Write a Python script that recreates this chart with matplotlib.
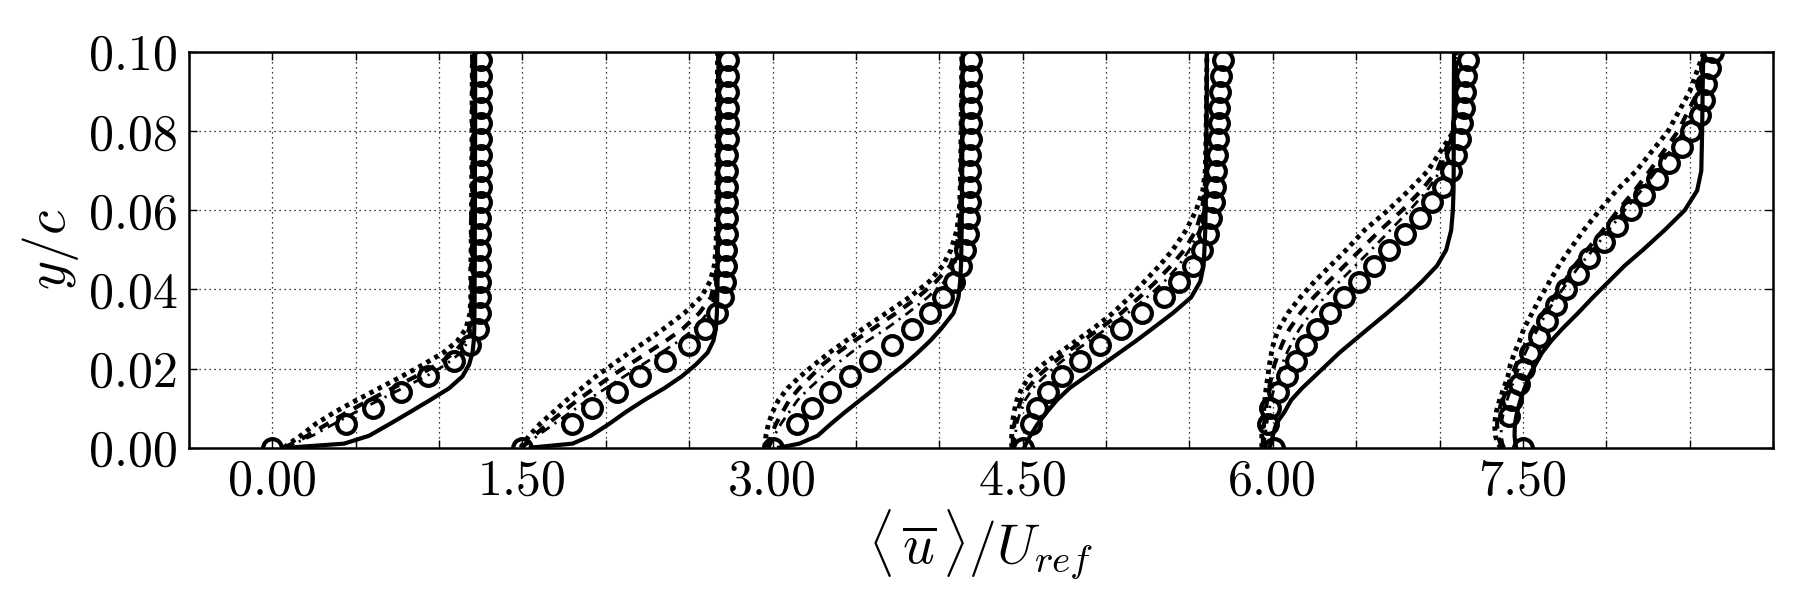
import matplotlib
matplotlib.use("Agg")
import matplotlib.pyplot as plt
from matplotlib.ticker import MultipleLocator, FuncFormatter

# station offsets along x (each profile shifted by 1.5)
offsets = [0.0, 1.5, 3.0, 4.5, 6.0, 7.5]

# wall-normal positions of the simulation curves
y_line = [0, 0.001, 0.003, 0.006, 0.009, 0.012, 0.015, 0.018, 0.021, 0.024, 0.027, 0.030,
          0.034, 0.038, 0.042, 0.046, 0.050, 0.055, 0.060, 0.065, 0.070, 0.080, 0.090, 0.100]

# experiment positions
y_exp = [0, 0.006, 0.010, 0.014, 0.018, 0.022, 0.026, 0.030, 0.034, 0.038, 0.042, 0.046, 0.050,
         0.054, 0.058, 0.062, 0.066, 0.070, 0.074, 0.078, 0.082, 0.086, 0.090, 0.094, 0.098]
y_exp_last = [0, 0.008, 0.012, 0.016, 0.020, 0.024, 0.028, 0.032, 0.036, 0.040, 0.044, 0.048, 0.052,
              0.056, 0.060, 0.064, 0.068, 0.072, 0.076, 0.080, 0.084, 0.088, 0.092, 0.096, 0.100]

solid_u = [
    [0.10, 0.43, 0.58, 0.705, 0.826, 0.945, 1.06, 1.14, 1.18, 1.20, 1.208, 1.211,
     1.212, 1.213, 1.213, 1.214, 1.214, 1.214, 1.215, 1.215, 1.215, 1.216, 1.216, 1.216],
    [0.05, 0.30, 0.41, 0.52, 0.62, 0.73, 0.85, 0.955, 1.04, 1.11, 1.145, 1.16,
     1.166, 1.168, 1.17, 1.17, 1.171, 1.172, 1.172, 1.173, 1.173, 1.174, 1.175, 1.175],
    [0.04, 0.16, 0.27, 0.35, 0.435, 0.525, 0.615, 0.70, 0.79, 0.87, 0.945, 1.01,
     1.085, 1.115, 1.125, 1.13, 1.132, 1.134, 1.135, 1.136, 1.137, 1.138, 1.139, 1.14],
    [0.01, 0.02, 0.045, 0.09, 0.145, 0.205, 0.28, 0.38, 0.48, 0.58, 0.68, 0.775,
     0.90, 1.01, 1.065, 1.085, 1.09, 1.095, 1.097, 1.099, 1.10, 1.102, 1.104, 1.105],
    [-0.02, -0.01, 0.0, 0.02, 0.07, 0.11, 0.175, 0.25, 0.325, 0.40, 0.485, 0.57,
     0.685, 0.795, 0.895, 0.985, 1.04, 1.07, 1.08, 1.084, 1.085, 1.085, 1.086, 1.087],
    [-0.04, -0.045, -0.05, -0.048, -0.035, -0.015, 0.01, 0.035, 0.075, 0.115, 0.17, 0.235,
     0.33, 0.42, 0.515, 0.61, 0.72, 0.85, 0.97, 1.045, 1.07, 1.075, 1.078, 1.082],
]

dashed_u = [
    [0.07, 0.12, 0.21, 0.33, 0.45, 0.58, 0.72, 0.86, 0.99, 1.09, 1.15, 1.18,
     1.19, 1.195, 1.197, 1.198, 1.199, 1.2, 1.2, 1.2, 1.2, 1.201, 1.202, 1.203],
    [-0.005, 0.02, 0.07, 0.15, 0.24, 0.33, 0.43, 0.53, 0.64, 0.75, 0.86, 0.96,
     1.06, 1.13, 1.155, 1.165, 1.168, 1.17, 1.17, 1.17, 1.171, 1.172, 1.173, 1.174],
    [-0.03, -0.025, -0.01, 0.02, 0.06, 0.10, 0.16, 0.23, 0.30, 0.39, 0.49, 0.60,
     0.74, 0.87, 0.98, 1.065, 1.10, 1.12, 1.125, 1.128, 1.13, 1.132, 1.134, 1.136],
    [-0.06, -0.06, -0.058, -0.05, -0.035, -0.01, 0.03, 0.09, 0.17, 0.26, 0.36, 0.46,
     0.59, 0.70, 0.80, 0.89, 0.97, 1.04, 1.075, 1.09, 1.10, 1.10, 1.103, 1.105],
    [-0.06, -0.06, -0.058, -0.052, -0.044, -0.034, -0.022, -0.008, 0.01, 0.035, 0.065, 0.10,
     0.165, 0.245, 0.335, 0.43, 0.525, 0.645, 0.775, 0.89, 0.985, 1.08, 1.095, 1.10],
    [-0.12, -0.135, -0.15, -0.155, -0.145, -0.125, -0.10, -0.07, -0.04, -0.01, 0.025, 0.06,
     0.12, 0.185, 0.25, 0.31, 0.385, 0.48, 0.57, 0.67, 0.76, 0.93, 1.05, 1.085],
]

dashdot_u = [
    [0.07, 0.13, 0.24, 0.37, 0.50, 0.64, 0.78, 0.92, 1.04, 1.13, 1.175, 1.19,
     1.195, 1.198, 1.2, 1.2, 1.2, 1.2, 1.2, 1.201, 1.201, 1.202, 1.203, 1.204],
    [0.0, 0.03, 0.09, 0.19, 0.29, 0.39, 0.50, 0.61, 0.72, 0.83, 0.94, 1.03,
     1.11, 1.15, 1.165, 1.17, 1.171, 1.172, 1.172, 1.173, 1.173, 1.174, 1.175, 1.176],
    [-0.02, -0.01, 0.01, 0.05, 0.10, 0.15, 0.22, 0.30, 0.38, 0.47, 0.57, 0.68,
     0.81, 0.93, 1.03, 1.09, 1.115, 1.125, 1.13, 1.132, 1.134, 1.135, 1.137, 1.138],
    [-0.055, -0.05, -0.045, -0.035, -0.015, 0.015, 0.06, 0.13, 0.21, 0.30, 0.40, 0.50,
     0.63, 0.745, 0.85, 0.935, 1.00, 1.06, 1.085, 1.095, 1.10, 1.10, 1.103, 1.105],
    [-0.05, -0.05, -0.045, -0.036, -0.024, -0.01, 0.008, 0.03, 0.055, 0.085, 0.12, 0.16,
     0.23, 0.31, 0.40, 0.495, 0.59, 0.705, 0.82, 0.925, 1.005, 1.08, 1.095, 1.10],
    [-0.11, -0.12, -0.13, -0.13, -0.115, -0.095, -0.07, -0.045, -0.015, 0.015, 0.05, 0.09,
     0.14, 0.205, 0.27, 0.34, 0.42, 0.515, 0.61, 0.71, 0.80, 0.965, 1.06, 1.085],
]

dotted_u = [
    [0.07, 0.10, 0.17, 0.26, 0.375, 0.505, 0.64, 0.775, 0.905, 1.025, 1.11, 1.16,
     1.185, 1.19, 1.19, 1.19, 1.192, 1.193, 1.194, 1.195, 1.196, 1.197, 1.198, 1.2],
    [-0.01, 0.005, 0.04, 0.105, 0.185, 0.265, 0.355, 0.44, 0.54, 0.64, 0.745, 0.845,
     0.97, 1.07, 1.125, 1.15, 1.16, 1.163, 1.165, 1.166, 1.167, 1.168, 1.169, 1.17],
    [-0.047, -0.045, -0.04, -0.025, 0.0, 0.035, 0.09, 0.165, 0.25, 0.34, 0.44, 0.54,
     0.68, 0.82, 0.94, 1.02, 1.07, 1.105, 1.12, 1.125, 1.128, 1.13, 1.133, 1.135],
    [-0.065, -0.066, -0.066, -0.062, -0.052, -0.035, -0.005, 0.04, 0.12, 0.22, 0.32, 0.42,
     0.54, 0.64, 0.73, 0.82, 0.90, 0.98, 1.04, 1.08, 1.095, 1.10, 1.103, 1.105],
    [-0.065, -0.066, -0.066, -0.062, -0.056, -0.048, -0.04, -0.03, -0.02, -0.008, 0.008, 0.035,
     0.09, 0.165, 0.25, 0.345, 0.44, 0.55, 0.69, 0.815, 0.93, 1.085, 1.095, 1.10],
    [-0.13, -0.15, -0.165, -0.17, -0.16, -0.14, -0.115, -0.09, -0.075, -0.05, -0.02, 0.005,
     0.055, 0.105, 0.16, 0.215, 0.28, 0.365, 0.46, 0.56, 0.68, 0.87, 1.0, 1.085],
]

exp_u = [
    [0.0, 0.44, 0.606, 0.772, 0.936, 1.09, 1.186, 1.236, 1.244, 1.246, 1.247, 1.247, 1.248,
     1.248, 1.248, 1.249, 1.249, 1.249, 1.25, 1.25, 1.25, 1.25, 1.251, 1.251, 1.251],
    [0.0, 0.296, 0.416, 0.566, 0.706, 0.856, 0.996, 1.096, 1.166, 1.205, 1.215, 1.22, 1.222,
     1.224, 1.225, 1.226, 1.227, 1.228, 1.229, 1.23, 1.23, 1.231, 1.232, 1.233, 1.234],
    [0.0, 0.146, 0.236, 0.346, 0.466, 0.586, 0.716, 0.836, 0.946, 1.02, 1.086, 1.13, 1.155,
     1.17, 1.178, 1.182, 1.185, 1.186, 1.187, 1.188, 1.189, 1.19, 1.191, 1.192, 1.193],
    [0.0, 0.05, 0.083, 0.152, 0.235, 0.345, 0.465, 0.59, 0.715, 0.85, 0.94, 1.02, 1.075,
     1.11, 1.13, 1.145, 1.155, 1.16, 1.165, 1.17, 1.175, 1.18, 1.185, 1.19, 1.20],
    [0.01, -0.03, -0.015, 0.03, 0.085, 0.14, 0.20, 0.265, 0.345, 0.43, 0.515, 0.605, 0.695,
     0.795, 0.88, 0.955, 1.02, 1.07, 1.10, 1.12, 1.135, 1.145, 1.15, 1.16, 1.17],
    [0.0, -0.085, -0.065, -0.025, 0.008, 0.04, 0.095, 0.145, 0.20, 0.26, 0.33, 0.395, 0.485,
     0.565, 0.65, 0.725, 0.805, 0.875, 0.955, 1.01, 1.06, 1.085, 1.10, 1.125, 1.14],
]

# tick labels shown on the x axis
x_labels = [0.0, 1.5, 3.0, 4.5, 6.0, 7.5]

plt.rcParams['font.family'] = 'serif'
plt.rcParams['font.serif'] = ['cmr10', 'DejaVu Serif']
plt.rcParams['mathtext.fontset'] = 'cm'
plt.rcParams['axes.unicode_minus'] = False

fig = plt.figure(figsize=(18, 6), dpi=100)
ax = fig.add_axes([0.105, 0.254, 0.880, 0.659])

for i, off in enumerate(offsets):
    ax.plot([off + u for u in dotted_u[i]], y_line, color='k', lw=3.5,
            linestyle=(0, (0.9, 1.0)))
    ax.plot([off + u for u in dashed_u[i]], y_line, color='k', lw=3.0,
            linestyle=(0, (2.6, 2.2)))
    ax.plot([off + u for u in dashdot_u[i]], y_line, color='k', lw=2.0,
            linestyle=(0, (3.5, 2.2, 0.8, 2.2)))
    ax.plot([off + u for u in solid_u[i]], y_line, color='k', lw=3.0, linestyle='-')
    ye = y_exp_last if i == len(offsets) - 1 else y_exp
    ax.plot([off + u for u in exp_u[i]], ye, linestyle='none', marker='o', ms=13.5,
            mfc='none', mec='k', mew=3.0)

ax.set_xlim(-0.5, 9.0)
ax.set_ylim(0.0, 0.1)

ax.xaxis.set_major_locator(MultipleLocator(0.5))
ax.yaxis.set_major_locator(MultipleLocator(0.02))


def xfmt(x, pos):
    for v in x_labels:
        if abs(x - v) < 1e-6:
            return '%.2f' % v
    return ''


ax.xaxis.set_major_formatter(FuncFormatter(xfmt))
ax.yaxis.set_major_formatter(FuncFormatter(lambda v, p: '%.2f' % v))

ax.grid(True, color='k', linestyle=(0, (1, 3)), linewidth=0.9)
ax.set_axisbelow(True)
ax.tick_params(direction='in', top=True, right=True, length=6, width=1.0,
               labelsize=36, pad=8)
for s in ax.spines.values():
    s.set_linewidth(1.8)

ax.set_xlabel(r'$\langle\,\overline{u}\,\rangle/U_{ref}$', fontsize=40, labelpad=2)
ax.set_ylabel(r'$y/c$', fontsize=40, labelpad=6)

fig.savefig('out.png', dpi=100)
